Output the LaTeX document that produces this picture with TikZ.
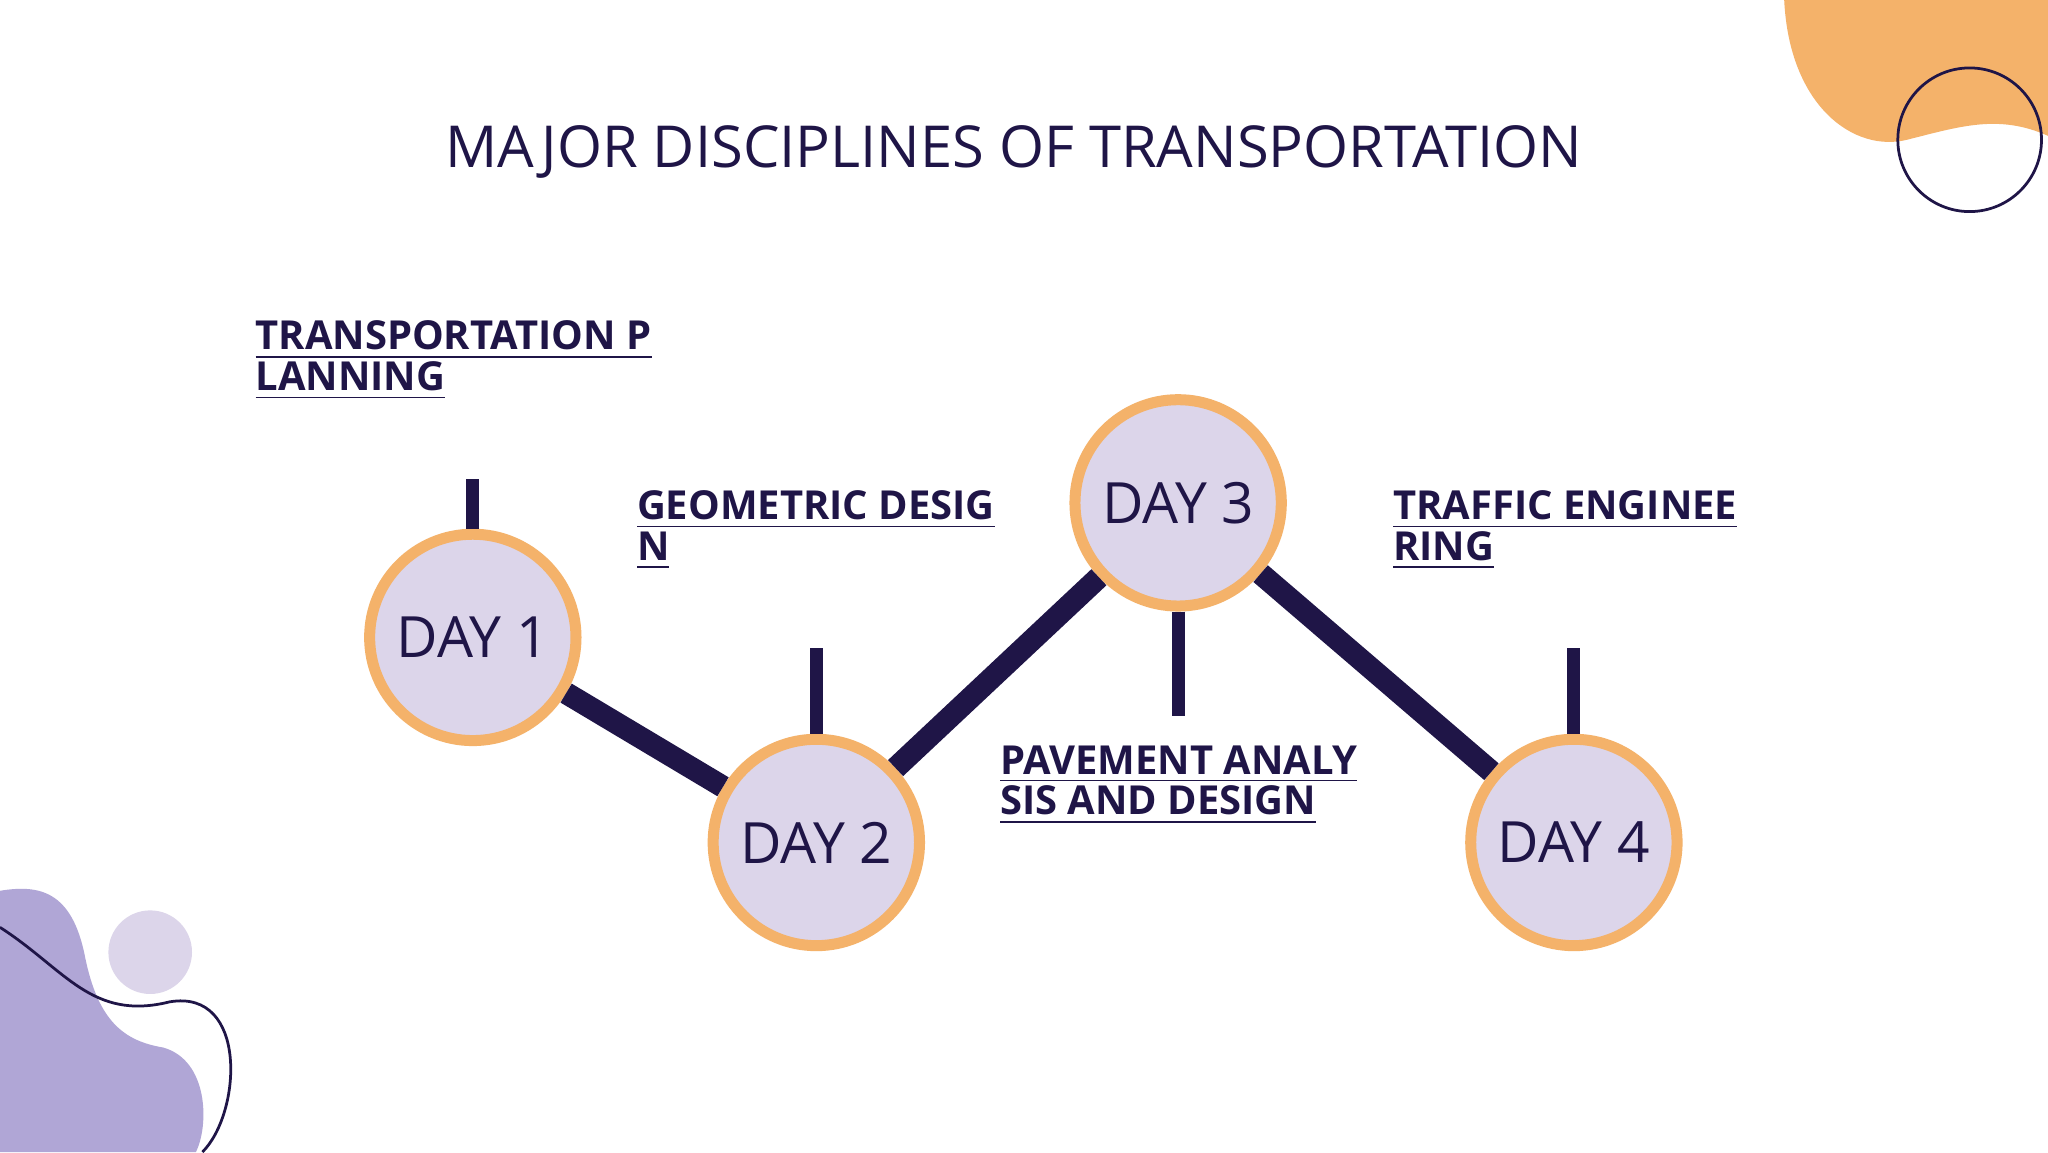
\documentclass[tikz,border=0pt]{standalone}
\usepackage{fontspec}
\setmainfont{Open Sans}
\definecolor{navy}{HTML}{1F1547}
\definecolor{lav}{HTML}{DCD5EA}
\definecolor{orng}{HTML}{F4B26A}
\definecolor{purp}{HTML}{B0A6D6}
\begin{document}
\begin{tikzpicture}
\tikzset{
 daynode/.style={circle,fill=lav,draw=orng,line width=2.4pt,minimum size=1.58cm,inner sep=0pt,text=navy,font=\fontsize{12.4}{14}\selectfont},
 link/.style={navy,line width=4.8pt},
 tick/.style={navy,line width=2.8pt},
 lbl/.style={anchor=north west,align=left,inner sep=0pt,text=navy,font=\bfseries\fontsize{8.7}{8.9}\selectfont}
}
\fill[white] (0,0) rectangle (15.68,8.82);
\clip (0,0) rectangle (15.68,8.82);
% decorations
\fill[orng] (13.66,8.82) .. controls (13.7,8.0) and (14.2,7.65) .. (14.6,7.75) .. controls (15.0,7.85) and (15.3,7.95) .. (15.68,7.78) -- (15.68,8.82) -- cycle;
\draw[navy,line width=0.6pt] (15.08,7.75) circle (0.55);
\fill[purp] (0,2.0) .. controls (0.3,2.05) and (0.55,2.0) .. (0.65,1.5) .. controls (0.75,1.0) and (0.95,0.85) .. (1.25,0.8) .. controls (1.6,0.7) and (1.6,0.2) .. (1.5,0) -- (0,0) -- cycle;
\fill[lav] (1.15,1.53) circle (0.32);
\draw[navy,line width=0.6pt] (0,1.72) .. controls (0.5,1.4) and (0.7,1.0) .. (1.3,1.15) .. controls (1.9,1.25) and (1.85,0.3) .. (1.55,0);
% title
\node[text=navy,font=\fontsize{12.6}{15}\selectfont] (title) at (7.76,7.66) {MAJOR DISCIPLINES OF TRANSPORTATION};
% days
\node[daynode] (d1) at (3.62,3.94) {DAY 1};
\node[daynode] (d2) at (6.25,2.37) {DAY 2};
\node[daynode] (d3) at (9.02,4.97) {DAY 3};
\node[daynode] (d4) at (12.05,2.37) {DAY 4};
\draw[link] (d1) -- (d2);
\draw[link] (d2) -- (d3);
\draw[link] (d3) -- (d4);
\coordinate (t1) at (3.62,5.15);
\coordinate (t2) at (6.25,3.86);
\coordinate (t3) at (9.02,3.34);
\coordinate (t4) at (12.05,3.86);
\draw[tick] (d1.north) -- (t1);
\draw[tick] (d2.north) -- (t2);
\draw[tick] (d3.south) -- (t3);
\draw[tick] (d4.north) -- (t4);
% labels
\node[lbl] (l1) at (1.95,6.37) {\underline{TRANSPORTATION P}\\\underline{LANNING}};
\node[lbl] (l2) at (4.87,5.07) {\underline{GEOMETRIC DESIG}\\\underline{N}};
\node[lbl] (l3) at (7.65,3.12) {\underline{PAVEMENT ANALY}\\\underline{SIS AND DESIGN}};
\node[lbl] (l4) at (10.66,5.07) {\underline{TRAFFIC ENGINEE}\\\underline{RING}};
\end{tikzpicture}
\end{document}
